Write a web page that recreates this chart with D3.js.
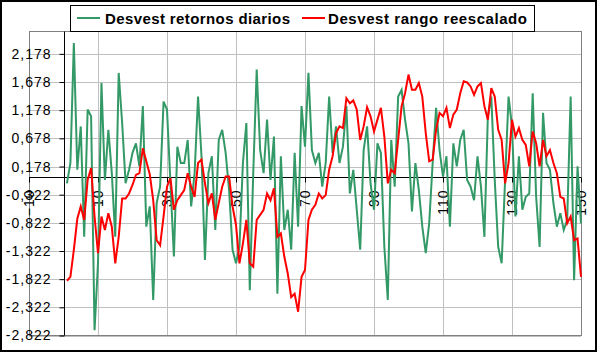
<!DOCTYPE html>
<html>
<head>
<meta charset="utf-8">
<script src="https://cdn.jsdelivr.net/npm/d3@7/dist/d3.min.js"></script>
<style>
  body { margin: 0; background: #fff; }
  svg { display: block; font-family: 'Liberation Sans', Arial, sans-serif; }
</style>
</head>
<body>
<figure id="chart" style="margin:0"></figure>
<script>
// series, index 1..150
const retornos = [
  -0.12, 0.24, 2.37, 0.12, 0.89, -1.07, 1.19, 1.07, -2.73, -1.54,
  1.66, -0.06, 0.83, 0.06, -1.07, 1.84, 0.95, -0.12, 0.12, 0.42,
  0.59, 0.18, 1.25, -0.89, -0.53, -2.19, -0.47, -0.18, 1.33, 1.19,
  -0.12, -1.42, 0.53, 0.24, 0.24, 0.65, -0.53, 0.06, 1.42, 0.36,
  -1.48, 0.06, 0.36, -0.95, 0.65, 0.83, 0.42, -0.24, -1.30, -1.54,
  -1.25, 0.24, 0.95, -2.02, 0.06, 1.90, 0.47, 0.06, 1.01, -0.06,
  0.71, -2.08, 0.36, -0.95, -0.59, -1.30, 0.42, -0.89, 1.25, 0.53,
  1.84, 0.47, 0.24, 0.42, -0.18, 0.24, 1.42, 0.42, 0.89, 0.24,
  0.53, 1.25, -0.30, 0.12, -0.59, -1.30, 0.47, 0.89, -0.12, -0.59,
  0.59, 0.42, -1.25, -2.19, 0.65, -0.18, 1.42, 1.54, 1.01, 0.59,
  -0.62, 0.24, -0.24, -0.89, -1.36, -0.83, 0.24, 1.22, 0.47, 0.0,
  0.36, -0.89, 0.59, 0.18, 0.65, 0.83, -0.06, -0.18, -0.42, 0.36,
  -0.18, -1.07, 1.07, 1.42, -0.06, -1.25, -1.54, -0.06, 1.42, 0.89,
  -0.71, 0.36, -0.59, -0.36, -0.30, 1.48, -0.36, -1.25, 1.13, 0.24,
  0.12, -0.47, -0.89, -0.65, -0.95, -0.77, 1.42, -1.84, 0.18, -0.83
];
const rango = [
  -1.85, -1.78, -1.30, -0.75, -0.53, -0.77, -0.06, 0.15, -0.71, -1.36,
  -0.71, -0.95, -0.65, -0.89, -1.54, -1.07, -0.39, -0.39, -0.30, -0.15,
  0.03, 0.06, 0.50, 0.27, 0.04, -0.42, -1.13, -1.22, -0.71, -0.18,
  -0.03, -0.59, -0.42, -0.33, -0.24, 0.06, -0.18, -0.36, 0.24, 0.30,
  -0.12, -0.47, -0.30, -0.77, -0.47, -0.18, 0.0, 0.0, -0.53, -0.86,
  -1.54, -1.19, -0.77, -1.54, -1.60, -0.77, -0.68, -0.59, -0.30, -0.42,
  -0.21, -1.07, -1.01, -1.42, -1.72, -2.14, -2.08, -2.40, -1.78, -1.66,
  -0.77, -0.59, -0.50, -0.30, -0.39, -0.33, 0.12, 0.36, 0.77, 0.89,
  0.86, 1.39, 1.30, 1.35, 1.19, 0.65, 0.89, 1.23, 1.07, 0.80,
  1.01, 1.22, 0.71, -0.12, 0.12, 0.06, 0.65, 1.25, 1.48, 1.81,
  1.54, 1.54, 1.66, 1.42, 0.77, 0.27, 0.30, 0.83, 1.13, 1.07,
  1.22, 0.86, 1.10, 1.19, 1.48, 1.69, 1.67, 1.60, 1.45, 1.60,
  1.66, 1.25, 1.01, 1.57, 1.42, 0.83, 0.65, -0.12, 0.24, 1.01,
  0.71, 0.86, 0.65, 0.56, 0.18, 0.80, 0.59, 0.18, 0.65, 0.36,
  0.47, 0.24, 0.06, -0.36, -0.39, -0.83, -0.71, -1.13, -1.10, -1.78
];
const seriesNames = ['Desvest retornos diarios', 'Desvest rango reescalado'];
const xTicks = [-10, 10, 30, 50, 70, 90, 110, 130, 150];
const yTicks = [-2.822, -2.322, -1.822, -1.322, -0.822, -0.322, 0.178, 0.678, 1.178, 1.678, 2.178];

const width = 598, height = 353;
const plot = {left: 29, right: 581, top: 31.5, bottom: 335.5};

const svg = d3.select('figure#chart')
  .append('svg')
  .attr('width', width)
  .attr('height', height);

// outer frame
svg.append('rect')
  .attr('x', 1).attr('y', 1)
  .attr('width', width - 3).attr('height', height - 3)
  .attr('fill', '#fff')
  .attr('stroke', '#000')
  .attr('stroke-width', 2);

const x = d3.scaleLinear().domain([-10, 150]).range([plot.left, plot.right]);
const y = d3.scaleLinear().domain([-2.822, 2.575]).range([plot.bottom, plot.top]);

const fmt = v => d3.format('.3f')(v).replace('.', ',').replace('−', '-');

// grid
svg.append('g')
  .selectAll('line')
  .data(yTicks)
  .enter()
  .append('line')
  .attr('x1', plot.left).attr('x2', plot.right)
  .attr('y1', d => Math.round(y(d)) + 0.5).attr('y2', d => Math.round(y(d)) + 0.5)
  .attr('stroke', '#c0c0c0');

svg.append('g')
  .selectAll('line')
  .data(xTicks)
  .enter()
  .append('line')
  .attr('x1', d => Math.round(x(d)) + 0.5).attr('x2', d => Math.round(x(d)) + 0.5)
  .attr('y1', plot.top).attr('y2', plot.bottom)
  .attr('stroke', '#c0c0c0');

svg.append('rect')
  .attr('x', plot.left + 0.5).attr('y', plot.top)
  .attr('width', plot.right - plot.left).attr('height', plot.bottom - plot.top)
  .attr('fill', 'none')
  .attr('stroke', '#808080');

// Y axis, crossing at x = 0
const yAxis = svg.append('g')
  .attr('transform', 'translate(' + (Math.round(x(0)) + 0.5) + ',0)')
  .call(d3.axisLeft(y).tickValues(yTicks).tickFormat(fmt).tickSize(5).tickPadding(8));
yAxis.select('.domain').attr('d', 'M0,' + plot.top + 'V' + plot.bottom);
yAxis.selectAll('text')
  .attr('font-size', 14)
  .attr('letter-spacing', 1)
  .attr('fill', '#000')
  .attr('font-family', "'Liberation Sans', Arial, sans-serif");

// X axis, crossing at y = 0
const xAxis = svg.append('g')
  .attr('transform', 'translate(0,' + (Math.round(y(0)) + 0.5) + ')')
  .call(d3.axisBottom(x).tickValues(xTicks).tickSize(5).tickFormat(d3.format('d')));
xAxis.select('.domain').attr('d', 'M' + plot.left + ',0H' + plot.right);
xAxis.selectAll('text')
  .attr('font-size', 14)
  .attr('letter-spacing', 1)
  .attr('fill', '#000')
  .attr('font-family', "'Liberation Sans', Arial, sans-serif")
  .attr('y', 0)
  .attr('dy', '0.35em')
  .attr('transform', 'translate(0,12)rotate(-90)')
  .style('text-anchor', 'end');

// lines
const line = d3.line()
  .x((d, i) => x(i + 1))
  .y(d => y(d));

svg.append('path')
  .datum(retornos)
  .attr('d', line)
  .attr('fill', 'none')
  .attr('stroke', '#339966')
  .attr('stroke-width', 2);

svg.append('path')
  .datum(rango)
  .attr('d', line)
  .attr('fill', 'none')
  .attr('stroke', '#ff0000')
  .attr('stroke-width', 2);

// legend
const legend = svg.append('g');
legend.append('rect')
  .attr('x', 70.5).attr('y', 5.5)
  .attr('width', 464).attr('height', 26)
  .attr('fill', '#fff')
  .attr('stroke', '#000');

const items = [
  {name: seriesNames[0], color: '#339966', lx: 77, tx: 105, tw: 185},
  {name: seriesNames[1], color: '#ff0000', lx: 302, tx: 328, tw: 199}
];
items.forEach(it => {
  legend.append('line')
    .attr('x1', it.lx).attr('x2', it.lx + 23)
    .attr('y1', 18).attr('y2', 18)
    .attr('stroke', it.color)
    .attr('stroke-width', 2);
  legend.append('text')
    .attr('x', it.tx).attr('y', 23.5)
    .attr('font-size', 15)
    .attr('font-weight', 'bold')
    .attr('textLength', it.tw)
    .attr('lengthAdjust', 'spacing')
    .text(it.name);
});
</script>
</body>
</html>
